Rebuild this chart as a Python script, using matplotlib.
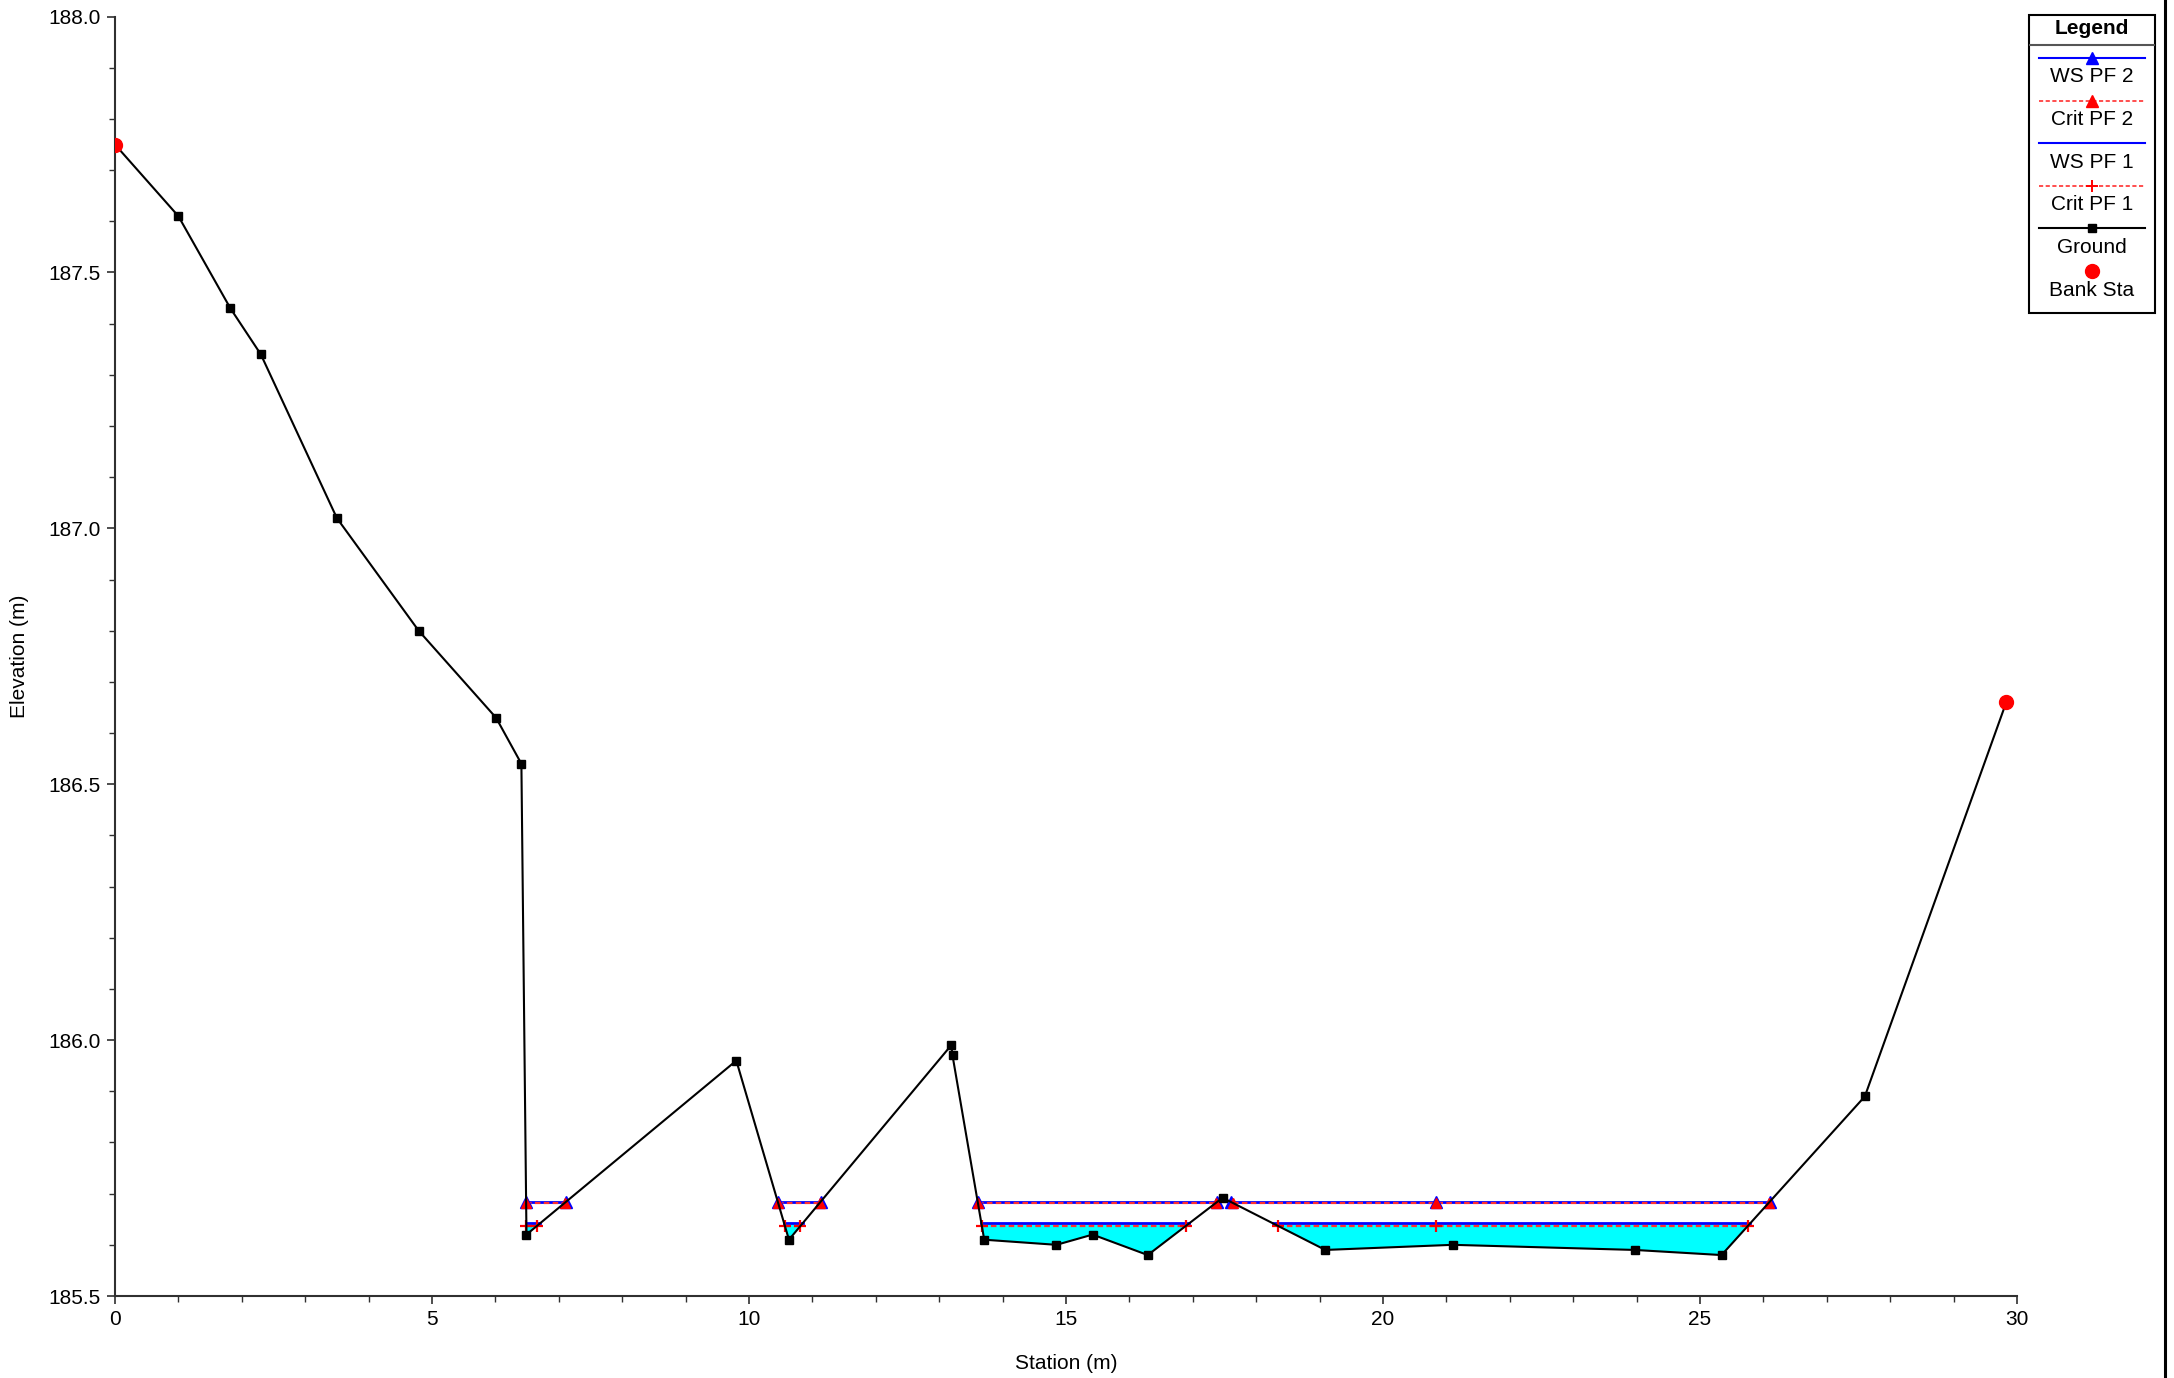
"""HEC-RAS style cross section: ground, water surfaces and critical depths."""
import matplotlib
matplotlib.use("Agg")
import matplotlib.pyplot as plt
import numpy as np
from matplotlib.lines import Line2D
from matplotlib.patches import Rectangle
from matplotlib.ticker import MultipleLocator, FormatStrFormatter

plt.rcParams["font.family"] = ["Liberation Sans", "DejaVu Sans"]

# --- data ---
station = [0.0, 1.0, 1.82, 2.3, 3.5, 4.79, 6.01, 6.41, 6.49, 9.80, 10.63,
           13.19, 13.21, 13.71, 14.85, 15.42, 16.29, 17.47, 19.09, 21.1,
           23.97, 25.34, 27.6, 29.83]
ground = [187.75, 187.61, 187.43, 187.34, 187.02, 186.80, 186.63, 186.54,
          185.62, 185.96, 185.61, 185.99, 185.97, 185.61, 185.60, 185.62,
          185.58, 185.692, 185.59, 185.60, 185.59, 185.58, 185.89, 186.66]
bank_sta = [0.0, 29.83]
bank_elev = [187.75, 186.66]
ws_pf2 = 185.684
crit_pf2 = 185.682
ws_pf1 = 185.642
crit_pf1 = 185.637
extra_marker_sta = [20.83]


def wet_segments(x, z, level):
    """Station ranges where the ground is below a water level."""
    x = np.asarray(x); z = np.asarray(z)
    segs, start = [], None
    for i in range(len(x) - 1):
        a, b = z[i] - level, z[i + 1] - level
        if a >= 0 > b:
            start = x[i] + (x[i + 1] - x[i]) * a / (a - b)
        elif a < 0 <= b and start is not None:
            segs.append((start, x[i] + (x[i + 1] - x[i]) * a / (a - b)))
            start = None
    return segs


def marker_points(segs):
    pts = []
    for s0, s1 in segs:
        pts += [s0, s1] + [m for m in extra_marker_sta if s0 < m < s1]
    return pts


fig = plt.figure(figsize=(21.74, 13.78), dpi=100)
ax = fig.add_axes([115 / 2174, 1 - 1296 / 1378, 1902 / 2174, 1279.4 / 1378])

# water fill for PF 1
gx = np.asarray(station); gz = np.asarray(ground)
ax.fill_between(gx, gz, ws_pf1, where=gz < ws_pf1, interpolate=True,
                color="#00ffff", lw=0, zorder=1)

# water surface / critical lines
for level in [ws_pf2, ws_pf1]:
    for s0, s1 in wet_segments(station, ground, level):
        ax.plot([s0, s1], [level, level], color="#0000ff", lw=2.0, zorder=3)
for level in [crit_pf2, crit_pf1]:
    for s0, s1 in wet_segments(station, ground, level):
        ax.plot([s0, s1], [level, level], color="#ff3030", lw=1.6,
                ls=(0, (2.5, 1.5)), zorder=4)

m2 = marker_points(wet_segments(station, ground, ws_pf2))
ax.plot(m2, [ws_pf2] * len(m2), ls="none", marker="^", ms=8.5,
        color="#0000ff", zorder=5)
mc2 = marker_points(wet_segments(station, ground, crit_pf2))
ax.plot(mc2, [crit_pf2] * len(mc2), ls="none", marker="^", ms=7.5,
        color="#ff0000", zorder=6)
mc1 = marker_points(wet_segments(station, ground, crit_pf1))
ax.plot(mc1, [crit_pf1] * len(mc1), ls="none", marker="+", ms=9, mew=1.6,
        color="#ff0000", zorder=6)

# ground and bank stations
ax.plot(station, ground, color="black", lw=1.5, marker="s", ms=6, zorder=7)
ax.plot(bank_sta, bank_elev, ls="none", marker="o", ms=10, color="#ff0000",
        zorder=8)

ax.set_xlim(0, 30)
ax.set_ylim(185.5, 188.0)
ax.xaxis.set_major_locator(MultipleLocator(5))
ax.xaxis.set_minor_locator(MultipleLocator(1))
ax.yaxis.set_major_locator(MultipleLocator(0.5))
ax.yaxis.set_minor_locator(MultipleLocator(0.1))
ax.yaxis.set_major_formatter(FormatStrFormatter("%.1f"))
ax.xaxis.set_major_formatter(FormatStrFormatter("%d"))
for side in ["top", "right"]:
    ax.spines[side].set_visible(False)
for side in ["left", "bottom"]:
    ax.spines[side].set_color("#303030")
    ax.spines[side].set_linewidth(1.5)
ax.tick_params(which="major", length=6, width=1.2, color="#303030",
               labelsize=15, pad=4)
ax.tick_params(which="minor", length=4, width=1.0, color="#303030")
ax.set_xlabel("Station (m)", fontsize=15, labelpad=18)
ax.set_ylabel("Elevation (m)", fontsize=15, labelpad=14)

# --- legend box, drawn in pixel-like units ---
lg = fig.add_axes([2029 / 2174, 1 - 313 / 1378, 126 / 2174, 298 / 1378])
lg.set_xlim(0, 126); lg.set_ylim(298, 0); lg.axis("off")
lg.add_patch(Rectangle((0, 0), 126, 298, fill=False, ec="black", lw=1.5,
                       clip_on=False))
lg.plot([0, 126], [30, 30], color="#555555", lw=1.5)
lg.text(63, 14, "Legend", ha="center", va="center", fontsize=15,
        fontweight="bold")
entries = [
    ("WS PF 2", dict(color="#0000ff", lw=1.5, ls="-"), dict(marker="^", color="#0000ff", ms=8)),
    ("Crit PF 2", dict(color="#ff3030", lw=1.2, ls=(0, (2.5, 1.5))), dict(marker="^", color="#ff0000", ms=8)),
    ("WS PF 1", dict(color="#0000ff", lw=1.5, ls="-"), None),
    ("Crit PF 1", dict(color="#ff3030", lw=1.2, ls=(0, (2.5, 1.5))), dict(marker="+", color="#ff0000", ms=8, mew=1.4)),
    ("Ground", dict(color="black", lw=1.5, ls="-"), dict(marker="s", color="black", ms=6)),
    ("Bank Sta", None, dict(marker="o", color="#ff0000", ms=10)),
]
for i, (label, line_kw, mark_kw) in enumerate(entries):
    yl = 43 + 42.6 * i
    if line_kw:
        lg.plot([10, 116], [yl, yl], **line_kw)
    if mark_kw:
        lg.plot([63], [yl], ls="none", **mark_kw)
    lg.text(63, yl + 19, label, ha="center", va="center", fontsize=15)

# right border line of the window
fig.add_artist(Line2D([2165 / 2174] * 2, [0, 1], transform=fig.transFigure,
                      color="black", lw=2.2))

fig.savefig("out.png", dpi=100)
